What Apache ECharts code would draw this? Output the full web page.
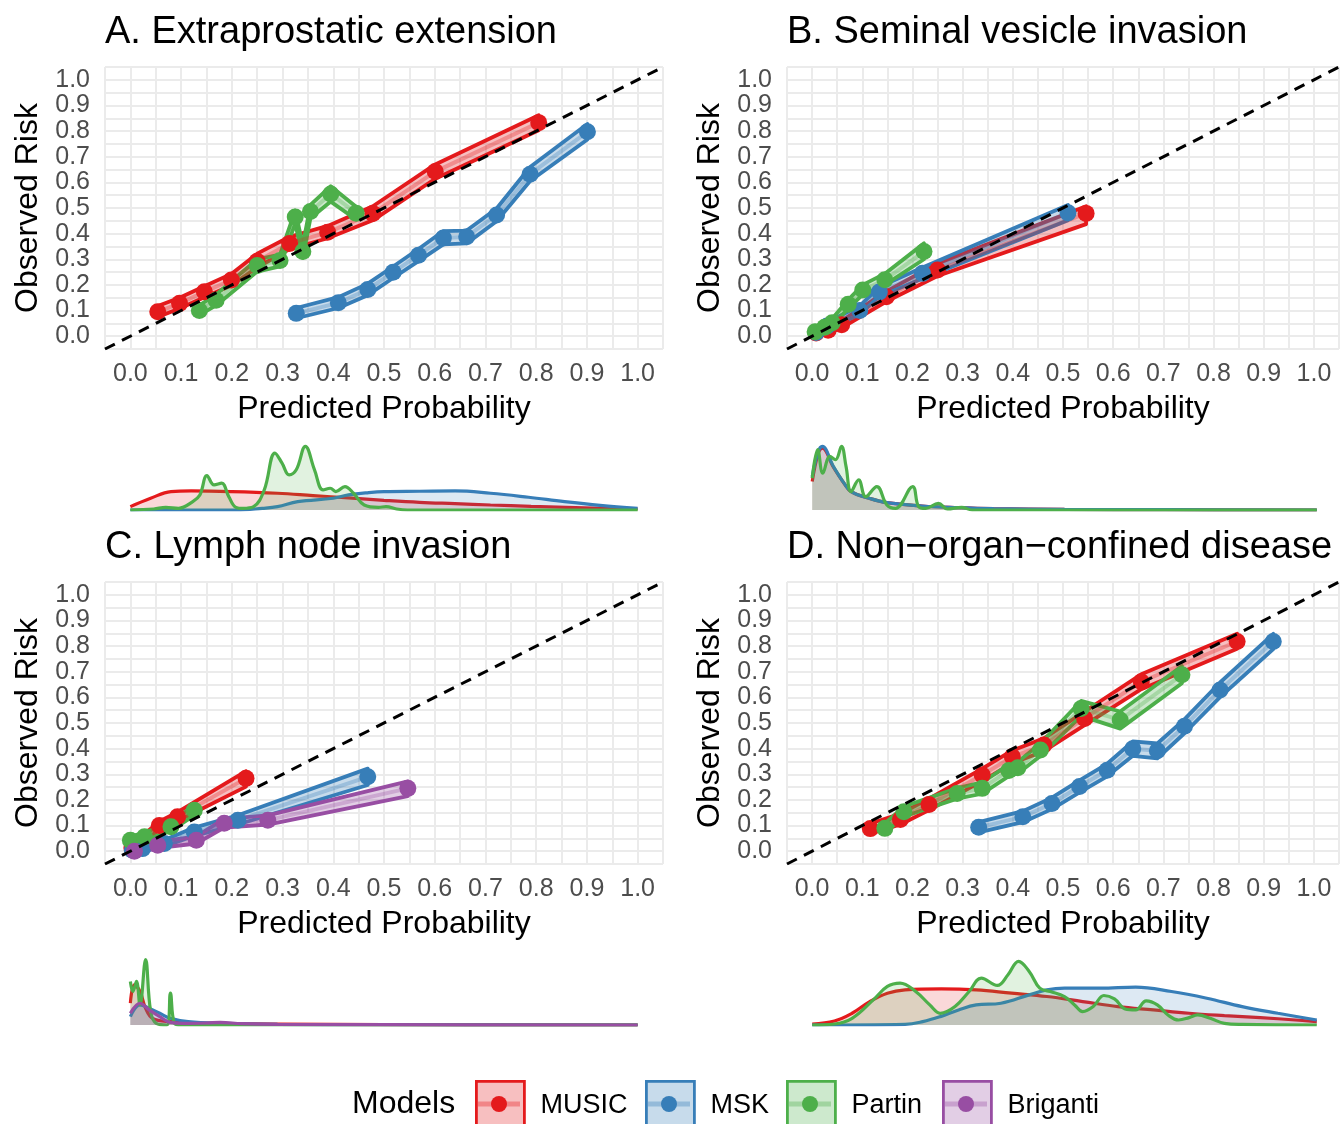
<!DOCTYPE html>
<html><head><meta charset="utf-8">
<script src="https://cdn.jsdelivr.net/npm/echarts@6/dist/echarts.min.js"></script>
<style>html,body{margin:0;padding:0;background:#fff}#c{width:1342px;height:1124px}</style>
</head><body><div id="c"></div>
<script>
const MODELS = ['MUSIC', 'MSK', 'Partin', 'Briganti'];
const COLORS = ['#E41A1C', '#377EB8', '#4DAF4A', '#984EA3'];
const TICK_LABELS = ['0.0','0.1','0.2','0.3','0.4','0.5','0.6','0.7','0.8','0.9','1.0'];
const PANEL_TITLES = ['A. Extraprostatic extension', 'B. Seminal vesicle invasion', 'C. Lymph node invasion', 'D. Non\u2212organ\u2212confined disease'];
const X_TITLE = 'Predicted Probability';
const Y_TITLE = 'Observed Risk';
const DIAG = [[-0.05, -0.05], [1.05, 1.05]];

// calibration rows: [predicted, observed, lower, upper]
const A_MUSIC = [[0.054,0.095,0.075,0.118],[0.097,0.128,0.108,0.150],[0.146,0.173,0.152,0.195],[0.199,0.219,0.198,0.243],[0.250,0.292,0.268,0.322],[0.314,0.362,0.340,0.388],[0.389,0.405,0.382,0.430],[0.478,0.479,0.452,0.507],[0.601,0.642,0.614,0.670],[0.805,0.833,0.803,0.862]];
const A_MSK = [[0.327,0.089,0.070,0.110],[0.410,0.130,0.110,0.152],[0.468,0.182,0.160,0.205],[0.518,0.249,0.227,0.272],[0.568,0.316,0.293,0.340],[0.617,0.383,0.358,0.410],[0.663,0.388,0.362,0.412],[0.722,0.473,0.448,0.498],[0.788,0.632,0.605,0.660],[0.901,0.797,0.767,0.828]];
const A_PARTIN = [[0.136,0.100,0.082,0.120],[0.169,0.140,0.120,0.162],[0.250,0.276,0.252,0.300],[0.295,0.295,0.272,0.318],[0.325,0.465,0.440,0.490],[0.340,0.330,0.305,0.355],[0.355,0.486,0.460,0.512],[0.395,0.555,0.525,0.585],[0.445,0.480,0.455,0.505]];

const B_MUSIC = [[0.008,0.012,0.000,0.026],[0.032,0.023,0.012,0.036],[0.059,0.045,0.032,0.060],[0.148,0.154,0.135,0.175],[0.250,0.258,0.235,0.284],[0.546,0.479,0.437,0.507]];
const B_MSK = [[0.008,0.014,0.002,0.028],[0.030,0.040,0.026,0.055],[0.095,0.100,0.085,0.118],[0.134,0.172,0.155,0.192],[0.220,0.245,0.225,0.268],[0.510,0.481,0.452,0.512]];
const B_PARTIN = [[0.006,0.017,0.004,0.030],[0.025,0.035,0.022,0.050],[0.040,0.052,0.038,0.068],[0.072,0.125,0.108,0.142],[0.101,0.180,0.162,0.200],[0.145,0.220,0.200,0.244],[0.223,0.330,0.300,0.362]];

const C_MUSIC = [[0.003,0.012,0.000,0.025],[0.057,0.100,0.085,0.116],[0.093,0.134,0.118,0.152],[0.228,0.284,0.252,0.312]];
const C_MSK = [[0.004,0.004,-0.005,0.014],[0.024,0.010,0.000,0.022],[0.067,0.030,0.018,0.044],[0.126,0.075,0.060,0.092],[0.212,0.121,0.104,0.140],[0.468,0.290,0.258,0.322]];
const C_PARTIN = [[0.000,0.043,0.028,0.058],[0.028,0.056,0.042,0.072],[0.080,0.095,0.080,0.112],[0.126,0.160,0.140,0.180]];
const C_BRIGANTI = [[0.008,0.000,-0.008,0.010],[0.054,0.023,0.012,0.036],[0.130,0.043,0.030,0.058],[0.185,0.109,0.092,0.126],[0.271,0.121,0.104,0.140],[0.547,0.245,0.215,0.272]];

const D_MUSIC = [[0.116,0.088,0.068,0.108],[0.176,0.124,0.104,0.146],[0.233,0.182,0.160,0.205],[0.339,0.297,0.273,0.322],[0.399,0.368,0.343,0.393],[0.462,0.414,0.390,0.440],[0.543,0.518,0.492,0.545],[0.656,0.661,0.632,0.690],[0.847,0.818,0.790,0.848]];
const D_MSK = [[0.332,0.093,0.073,0.113],[0.420,0.134,0.113,0.156],[0.478,0.186,0.164,0.209],[0.533,0.252,0.229,0.276],[0.588,0.316,0.292,0.341],[0.639,0.400,0.372,0.428],[0.688,0.392,0.362,0.420],[0.742,0.487,0.460,0.514],[0.813,0.629,0.601,0.658],[0.919,0.818,0.788,0.848]];
const D_PARTIN = [[0.145,0.089,0.072,0.108],[0.183,0.154,0.135,0.174],[0.289,0.225,0.205,0.246],[0.339,0.245,0.224,0.268],[0.392,0.315,0.293,0.338],[0.410,0.325,0.303,0.348],[0.455,0.395,0.371,0.420],[0.536,0.557,0.528,0.586],[0.614,0.512,0.478,0.545],[0.737,0.688,0.655,0.722]];

// density rows: [predicted probability, relative density]
const DA_MUSIC = [[0,10],[0.04,35],[0.08,55],[0.12,57],[0.2,55],[0.29,50],[0.36,43],[0.43,36],[0.5,29],[0.57,23],[0.64,19],[0.71,15],[0.79,11],[0.86,8],[0.93,5],[1.0,3]];
const DA_MSK = [[0,0],[0.21,0],[0.26,5],[0.29,10],[0.33,25],[0.40,35],[0.43,45],[0.47,52],[0.5,55],[0.57,56],[0.64,57],[0.71,50],[0.785,38],[0.856,25],[0.926,14],[1.0,5]];
const DA_PARTIN = [[0,0],[0.046,3],[0.07,8],[0.095,5],[0.123,25],[0.137,45],[0.151,103],[0.165,75],[0.18,80],[0.194,40],[0.208,8],[0.222,5],[0.243,10],[0.264,60],[0.285,170],[0.299,140],[0.313,105],[0.327,120],[0.345,190],[0.363,120],[0.38,60],[0.394,65],[0.405,55],[0.423,70],[0.44,50],[0.461,15],[0.489,8],[0.504,10],[0.525,3],[0.546,0],[1.0,0]];

const DB_MUSIC = [[0,85],[0.012,170],[0.02,185],[0.042,128],[0.063,80],[0.077,55],[0.113,35],[0.148,22],[0.218,12],[0.289,7],[0.359,4],[0.5,2],[0.7,1],[1.0,0]];
const DB_MSK = [[0,100],[0.012,175],[0.02,190],[0.042,130],[0.063,80],[0.077,55],[0.113,35],[0.148,22],[0.218,12],[0.289,7],[0.359,4],[0.5,2],[0.7,1],[1.0,0]];
const DB_PARTIN = [[0,95],[0.011,180],[0.021,110],[0.035,160],[0.046,150],[0.058,190],[0.067,130],[0.077,55],[0.092,90],[0.106,40],[0.128,70],[0.148,15],[0.165,5],[0.199,70],[0.211,10],[0.225,5],[0.25,20],[0.268,3],[0.296,8],[0.317,0],[1.0,0]];

const DC_MUSIC = [[0,65],[0.008,120],[0.019,100],[0.03,50],[0.044,20],[0.079,10],[0.15,5],[0.29,3],[0.5,1],[1.0,0]];
const DC_MSK = [[0,25],[0.019,60],[0.037,50],[0.058,35],[0.079,20],[0.114,10],[0.184,5],[0.29,2],[0.5,1],[1.0,0]];
const DC_PARTIN = [[0,130],[0.005,100],[0.012,130],[0.019,60],[0.03,195],[0.04,40],[0.051,5],[0.072,0],[0.079,95],[0.087,5],[0.1,0],[1.0,0]];
const DC_BRIGANTI = [[0,35],[0.019,65],[0.037,45],[0.058,25],[0.079,8],[0.114,5],[0.15,6],[0.177,8],[0.22,4],[0.29,2],[0.5,1],[1.0,0]];

const DD_MUSIC = [[0,3],[0.044,12],[0.079,35],[0.114,70],[0.149,95],[0.184,105],[0.256,108],[0.325,105],[0.395,95],[0.465,85],[0.536,70],[0.606,55],[0.676,45],[0.747,35],[0.817,28],[0.888,22],[0.958,15],[1.0,10]];
const DD_MSK = [[0,0],[0.184,2],[0.219,10],[0.254,25],[0.29,45],[0.325,60],[0.374,65],[0.43,90],[0.465,105],[0.5,110],[0.571,110],[0.641,113],[0.712,100],[0.782,80],[0.852,55],[0.923,35],[1.0,15]];
const DD_PARTIN = [[0,0],[0.044,3],[0.079,20],[0.121,75],[0.149,115],[0.174,125],[0.205,100],[0.233,60],[0.254,35],[0.283,55],[0.311,100],[0.335,140],[0.367,118],[0.388,150],[0.409,190],[0.43,160],[0.451,110],[0.472,100],[0.5,85],[0.52,60],[0.536,40],[0.557,55],[0.578,88],[0.599,78],[0.62,48],[0.641,45],[0.662,72],[0.684,60],[0.705,30],[0.726,15],[0.747,22],[0.764,30],[0.789,20],[0.817,5],[0.852,2],[1.0,0]];

const CALIB = [[A_MUSIC, A_MSK, A_PARTIN, null], [B_MUSIC, B_MSK, B_PARTIN, null], [C_MUSIC, C_MSK, C_PARTIN, C_BRIGANTI], [D_MUSIC, D_MSK, D_PARTIN, null]];
const DENS = [[DA_MUSIC, DA_MSK, DA_PARTIN, null], [DB_MUSIC, DB_MSK, DB_PARTIN, null], [DC_MUSIC, DC_MSK, DC_PARTIN, DC_BRIGANTI], [DD_MUSIC, DD_MSK, DD_PARTIN, null]];

// ---------- layout / styling ----------
const FONT = "'Liberation Sans', Arial, Helvetica, sans-serif";
const LAYOUT = [
  {left: 105, top: 67, width: 558, dTop: 443},
  {left: 787, top: 67, width: 556, dTop: 443},
  {left: 105, top: 582, width: 558, dTop: 958},
  {left: 787, top: 582, width: 556, dTop: 958}
];
const LEGEND_BOX_LEFT = [475, 645, 786, 942];

function rgba(hex, a) {
  const n = parseInt(hex.slice(1), 16);
  return 'rgba(' + ((n >> 16) & 255) + ',' + ((n >> 8) & 255) + ',' + (n & 255) + ',' + a + ')';
}
function tickFmt(v) {
  const k = Math.round(v * 20);
  return (k >= 0 && k <= 20 && k % 2 === 0) ? TICK_LABELS[k / 2] : '';
}

const grid = [], xAxis = [], yAxis = [], series = [], title = [], legend = [], graphic = [];

LAYOUT.forEach(function (L, p) {
  grid.push({left: L.left, top: L.top, width: L.width, height: 282, containLabel: false});
  grid.push({left: L.left, top: L.dTop, width: L.width, height: 67, containLabel: false});
  const common = {
    type: 'value', min: -0.05, max: 1.05, interval: 0.05,
    axisLine: {show: false, onZero: false}, axisTick: {show: false},
    splitLine: {show: true, lineStyle: {color: '#ebebeb', width: 2}},
    axisLabel: {formatter: tickFmt, fontSize: 25, color: '#4d4d4d', fontFamily: FONT, showMinLabel: true, showMaxLabel: true},
    nameLocation: 'middle',
    nameTextStyle: {fontSize: 32, color: '#000', fontFamily: FONT}
  };
  xAxis.push(Object.assign({}, common, {gridIndex: 2 * p, name: X_TITLE, nameGap: 44,
    axisLabel: Object.assign({}, common.axisLabel, {margin: 13})}));
  yAxis.push(Object.assign({}, common, {gridIndex: 2 * p, name: Y_TITLE, nameGap: 61,
    axisLabel: Object.assign({}, common.axisLabel, {margin: 15})}));
  xAxis.push({type: 'value', gridIndex: 2 * p + 1, min: -0.05, max: 1.05, show: false});
  yAxis.push({type: 'value', gridIndex: 2 * p + 1, min: 0, max: 200, show: false});

  title.push({text: PANEL_TITLES[p], left: L.left, top: L.top - 53, padding: 0,
    textStyle: {fontSize: 38, fontWeight: 'normal', color: '#000', fontFamily: FONT}});

  const ax = 2 * p;
  CALIB[p].forEach(function (rows, m) {
    if (!rows) return;
    const c = COLORS[m];
    series.push({
      type: 'custom', name: MODELS[m], xAxisIndex: ax, yAxisIndex: ax, silent: true, z: 2 + m * 0.01,
      data: rows,
      renderItem: function (params, api) {
        if (params.dataIndex !== 0) return null;
        const up = rows.map(function (r) { return api.coord([r[0], r[3]]); });
        const lo = rows.map(function (r) { return api.coord([r[0], r[2]]); }).reverse();
        return {type: 'polygon', shape: {points: up.concat(lo)},
          style: {fill: rgba(c, 0.28), stroke: c, lineWidth: 3.8, lineJoin: 'round'}};
      }
    });
  });
  CALIB[p].forEach(function (rows, m) {
    if (!rows) return;
    series.push({type: 'line', name: MODELS[m], xAxisIndex: ax, yAxisIndex: ax, silent: true, z: 3,
      data: rows.map(function (r) { return [r[0], r[1]]; }), symbol: 'none',
      lineStyle: {color: rgba(COLORS[m], 0.3), width: 4}});
  });
  CALIB[p].forEach(function (rows, m) {
    if (!rows) return;
    series.push({type: 'scatter', name: MODELS[m], xAxisIndex: ax, yAxisIndex: ax, silent: true, z: 4,
      data: rows.map(function (r) { return [r[0], r[1]]; }), symbolSize: 17,
      itemStyle: {color: COLORS[m], opacity: 1}});
  });
  series.push({type: 'line', xAxisIndex: ax, yAxisIndex: ax, data: DIAG, symbol: 'none', silent: true, z: 5,
    lineStyle: {color: '#000', width: 3, type: [11, 8]}});

  DENS[p].forEach(function (rows, m) {
    if (!rows) return;
    series.push({type: 'line', name: MODELS[m], xAxisIndex: ax + 1, yAxisIndex: ax + 1, data: rows,
      symbol: 'none', smooth: 0.4, silent: true, z: 2 + m * 0.01,
      lineStyle: {color: COLORS[m], width: 3.2},
      areaStyle: {color: rgba(COLORS[m], 0.24)}});
  });
});

title.push({text: 'Models', left: 352, top: 1088, padding: 0,
  textStyle: {fontSize: 32, fontWeight: 'normal', color: '#000', fontFamily: FONT}});

MODELS.forEach(function (name, m) {
  const bx = LEGEND_BOX_LEFT[m], c = COLORS[m];
  legend.push({
    left: bx, top: 1080, itemWidth: 48, itemHeight: 48, selectedMode: false, padding: 0,
    data: [{name: name, icon: 'rect', itemStyle: {color: rgba(c, 0.28), borderColor: c, borderWidth: 2.8}}],
    textStyle: {fontSize: 27, color: '#000', fontFamily: FONT, padding: [0, 0, 0, 11]}
  });
  graphic.push({type: 'line', z: 100, shape: {x1: bx + 3, y1: 1104, x2: bx + 45, y2: 1104},
    style: {stroke: rgba(c, 0.35), lineWidth: 5}});
  graphic.push({type: 'circle', z: 101, shape: {cx: bx + 24, cy: 1104, r: 8}, style: {fill: c}});
});

const chart = echarts.init(document.getElementById('c'), null, {renderer: 'canvas'});
chart.setOption({
  animation: false, backgroundColor: '#fff',
  title: title, grid: grid, xAxis: xAxis, yAxis: yAxis, legend: legend, graphic: graphic, series: series
});
</script></body></html>
